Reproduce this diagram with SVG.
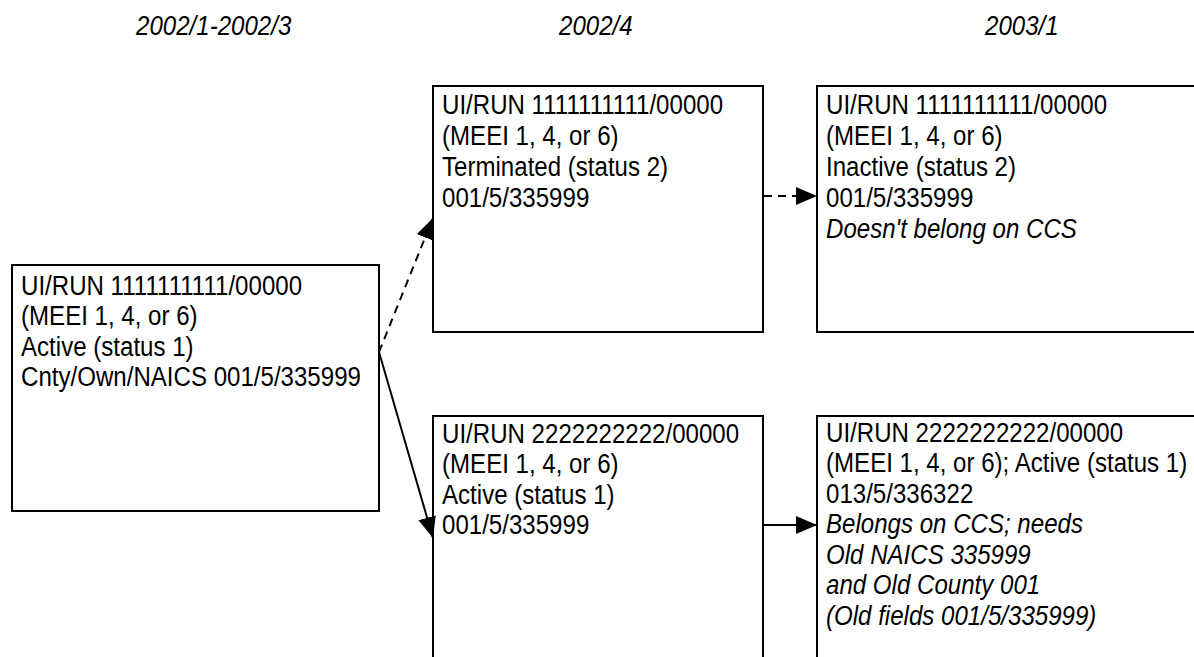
<svg xmlns="http://www.w3.org/2000/svg" width="1194" height="657" viewBox="0 0 1194 657">
<defs>
<style>
.t{font-family:"Liberation Sans",Arial,sans-serif;font-size:28px;fill:#000;}
.i{font-style:italic;}
.box{fill:#fff;stroke:#000;stroke-width:2;}
.c{fill:none;stroke:#000;stroke-width:2;}
.d{stroke-dasharray:8,6;}
</style>
<marker id="ah" markerUnits="userSpaceOnUse" markerWidth="24" markerHeight="20" refX="21" refY="9" orient="auto">
<path d="M0,0 L21,9 L0,18 Z" fill="#000"/>
</marker>
</defs>
<rect width="1194" height="657" fill="#fff"/>
<g id="headers">
<text class="t i" transform="translate(136,35) scale(0.86,1)">2002/1-2002/3</text>
<text class="t i" transform="translate(559,35) scale(0.86,1)">2002/4</text>
<text class="t i" transform="translate(985,35) scale(0.86,1)">2003/1</text>
</g>
<g id="n1">
<rect class="box" x="12" y="265" width="367" height="246"/>
<text class="t" transform="translate(21,295) scale(0.86,1)"><tspan x="0">UI/RUN 1111111111/00000</tspan><tspan x="0" dy="30.5">(MEEI 1, 4, or 6)</tspan><tspan x="0" dy="30.5">Active (status 1)</tspan><tspan x="0" dy="30.5">Cnty/Own/NAICS 001/5/335999</tspan></text>
</g>
<g id="n2">
<rect class="box" x="433" y="86" width="330" height="246"/>
<text class="t" transform="translate(442,114) scale(0.86,1)"><tspan x="0">UI/RUN 1111111111/00000</tspan><tspan x="0" dy="31">(MEEI 1, 4, or 6)</tspan><tspan x="0" dy="31">Terminated (status 2)</tspan><tspan x="0" dy="31">001/5/335999</tspan></text>
</g>
<g id="n3">
<rect class="box" x="817" y="86" width="400" height="246"/>
<text class="t" transform="translate(826,114) scale(0.86,1)"><tspan x="0">UI/RUN 1111111111/00000</tspan><tspan x="0" dy="31">(MEEI 1, 4, or 6)</tspan><tspan x="0" dy="31">Inactive (status 2)</tspan><tspan x="0" dy="31">001/5/335999</tspan><tspan x="0" dy="31" class="i">Doesn't belong on CCS</tspan></text>
</g>
<g id="n4">
<rect class="box" x="433" y="416" width="330" height="260"/>
<text class="t" transform="translate(442,443) scale(0.86,1)"><tspan x="0">UI/RUN 2222222222/00000</tspan><tspan x="0" dy="30.5">(MEEI 1, 4, or 6)</tspan><tspan x="0" dy="30.5">Active (status 1)</tspan><tspan x="0" dy="30.5">001/5/335999</tspan></text>
</g>
<g id="n5">
<rect class="box" x="817" y="416" width="400" height="260"/>
<text class="t" transform="translate(826,442) scale(0.86,1)"><tspan x="0">UI/RUN 2222222222/00000</tspan><tspan x="0" dy="30.5">(MEEI 1, 4, or 6); Active (status 1)</tspan><tspan x="0" dy="30.5">013/5/336322</tspan><tspan x="0" dy="30.5" class="i">Belongs on CCS; needs</tspan><tspan x="0" dy="30.5" class="i">Old NAICS 335999</tspan><tspan x="0" dy="30.5" class="i">and Old County 001</tspan><tspan x="0" dy="30.5" class="i">(Old fields 001/5/335999)</tspan></text>
</g>
<g id="connectors">
<line class="c d" x1="379" y1="352" x2="433" y2="218" marker-end="url(#ah)"/>
<line class="c" x1="379" y1="352" x2="433" y2="538" marker-end="url(#ah)"/>
<line class="c d" x1="764" y1="196" x2="817" y2="196" marker-end="url(#ah)"/>
<line class="c" x1="764" y1="525" x2="817" y2="525" marker-end="url(#ah)"/>
</g>
</svg>
